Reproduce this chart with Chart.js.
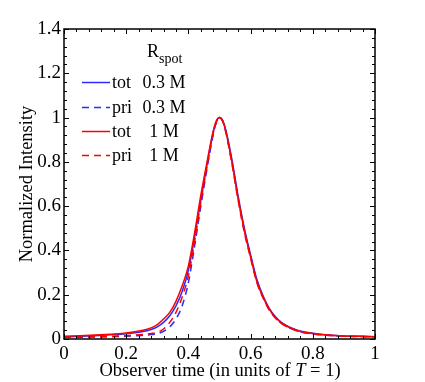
<!DOCTYPE html>
<html><head><meta charset="utf-8">
<script src="https://cdn.jsdelivr.net/npm/chart.js@4"></script>
<style>html,body{margin:0;padding:0;background:#fff;} canvas{display:block}</style>
</head><body>
<canvas id="c" width="425" height="382"></canvas>
<script>
// Observer time samples (units of T)
const timeX = [0,0.05,0.1,0.15,0.2,0.25,0.28,0.3,0.32,0.34,0.36,0.38,0.4,0.42,0.44,0.46,0.48,0.49,0.5,0.51,0.52,0.54,0.56,0.58,0.6,0.62,0.64,0.66,0.68,0.7,0.75,0.8,0.85,0.9,0.95,1];
// tot, R_spot = 0.3 M
const totSmall = [0.01,0.012,0.015,0.019,0.024,0.033,0.043,0.055,0.075,0.105,0.15,0.215,0.31,0.46,0.63,0.79,0.935,0.983,1.0,0.987,0.945,0.81,0.645,0.50,0.38,0.27,0.195,0.138,0.1,0.074,0.04,0.026,0.018,0.014,0.012,0.01];
// pri, R_spot = 0.3 M
const priSmall = [0.007,0.008,0.009,0.010,0.012,0.016,0.02,0.024,0.035,0.055,0.09,0.15,0.255,0.42,0.60,0.77,0.925,0.978,1.0,0.985,0.94,0.80,0.635,0.49,0.375,0.265,0.19,0.133,0.096,0.07,0.037,0.024,0.017,0.013,0.011,0.01];
// tot, R_spot = 1 M
const totLarge = [0.012,0.015,0.018,0.022,0.027,0.038,0.05,0.065,0.09,0.12,0.17,0.24,0.33,0.48,0.65,0.80,0.94,0.985,1.0,0.985,0.94,0.80,0.635,0.49,0.37,0.26,0.19,0.135,0.098,0.072,0.038,0.025,0.018,0.014,0.012,0.01];
// pri, R_spot = 1 M
const priLarge = [0.008,0.009,0.010,0.012,0.015,0.02,0.025,0.03,0.045,0.075,0.12,0.19,0.285,0.44,0.62,0.78,0.93,0.98,1.0,0.984,0.935,0.79,0.625,0.48,0.365,0.255,0.185,0.13,0.094,0.069,0.036,0.023,0.016,0.012,0.011,0.01];

const legendKinds = ['tot','pri','tot','pri'];
const legendRadii = ['0.3 M','0.3 M','1 M','1 M'];
const xTicks = [0,0.2,0.4,0.6,0.8,1];
const yTicks = [0,0.2,0.4,0.6,0.8,1,1.2,1.4];

const BLUE = '#2b2bff', RED = '#ff0000';
const SERIF = '"Liberation Serif", "Times New Roman", serif';
Chart.defaults.font.family = SERIF;
Chart.defaults.color = '#000';

function pts(ys){ return timeX.map((x,i)=>({x:x,y:ys[i]})); }
function fmt(v){ return String(parseFloat(Number(v).toFixed(2))); }

const series = [
  {label:'tot 0.3 M', data:pts(totSmall), borderColor:BLUE, borderDash:[], order:3},
  {label:'pri 0.3 M', data:pts(priSmall), borderColor:BLUE, borderDash:[7,5], order:4},
  {label:'tot 1 M', data:pts(totLarge), borderColor:RED, borderDash:[], order:1},
  {label:'pri 1 M', data:pts(priLarge), borderColor:RED, borderDash:[7,5], order:2}
].map(d=>Object.assign(d,{borderWidth:1.5, pointRadius:0, fill:false, cubicInterpolationMode:'monotone'}));

const deco = {
  id:'deco',
  afterDraw(chart){
    const ctx = chart.ctx, a = chart.chartArea, xs = chart.scales.x, ys = chart.scales.y;
    ctx.save();
    ctx.strokeStyle = '#000';
    ctx.lineWidth = 1;
    for(let i=0;i<=25;i++){
      const v = i*0.04, px = Math.round(xs.getPixelForValue(v))+0.5;
      const L = (i%5===0)?5:3;
      ctx.beginPath();
      ctx.moveTo(px,a.bottom); ctx.lineTo(px,a.bottom-L);
      ctx.moveTo(px,a.top); ctx.lineTo(px,a.top+L);
      ctx.stroke();
    }
    for(let i=0;i<=35;i++){
      const v = i*0.04, py = Math.round(ys.getPixelForValue(v))+0.5;
      const L = (i%5===0)?5:3;
      ctx.beginPath();
      ctx.moveTo(a.left,py); ctx.lineTo(a.left+L,py);
      ctx.moveTo(a.right,py); ctx.lineTo(a.right-L,py);
      ctx.stroke();
    }
    ctx.lineWidth = 1.5;
    ctx.strokeRect(a.left, a.top, a.right-a.left, a.bottom-a.top);

    // legend
    ctx.fillStyle = '#000';
    ctx.textBaseline = 'alphabetic';
    ctx.textAlign = 'left';
    ctx.font = '18px ' + SERIF;
    ctx.fillText('R', 147, 57);
    ctx.font = '14px ' + SERIF;
    ctx.fillText('spot', 159, 63);
    const rowY = [82,107,131,155];
    chart.data.datasets.forEach((d,i)=>{
      const y = rowY[i];
      ctx.strokeStyle = d.borderColor;
      ctx.lineWidth = 1.5;
      ctx.setLineDash(d.borderDash);
      ctx.beginPath(); ctx.moveTo(82,y+0.5); ctx.lineTo(110,y+0.5); ctx.stroke();
      ctx.setLineDash([]);
      ctx.fillStyle = '#000';
      ctx.font = '18px ' + SERIF;
      ctx.textBaseline = 'middle';
      ctx.textAlign = 'left';
      ctx.fillText(legendKinds[i], 112, y+1);
      ctx.textAlign = 'center';
      ctx.fillText(legendRadii[i], 164, y+1);
    });

    // axis titles
    const TF = '18.5px ' + SERIF, TFI = 'italic 18.5px ' + SERIF;
    ctx.fillStyle = '#000';
    ctx.textBaseline = 'alphabetic';
    ctx.font = TF;
    const p1 = 'Observer time (in units of ', p2 = 'T', p3 = ' = 1)';
    const w1 = ctx.measureText(p1).width, w3 = ctx.measureText(p3).width;
    ctx.font = TFI;
    const w2 = ctx.measureText(p2).width;
    const total = w1+w2+w3;
    let sx = 220 - total/2;
    ctx.textAlign = 'left';
    ctx.font = TF; ctx.fillText(p1, sx, 376);
    ctx.font = TFI; ctx.fillText(p2, sx+w1, 376);
    ctx.font = TF; ctx.fillText(p3, sx+w1+w2, 376);

    ctx.translate(27, (a.top+a.bottom)/2);
    ctx.rotate(-Math.PI/2);
    ctx.textAlign = 'center';
    ctx.textBaseline = 'middle';
    ctx.font = TF;
    ctx.fillText('Normalized Intensity', 0, 0);
    ctx.restore();
  }
};

new Chart(document.getElementById('c'), {
  type:'line',
  data:{datasets:series},
  plugins:[deco],
  options:{
    responsive:false, animation:false, devicePixelRatio:1,
    layout:{padding:{left:0,right:50,top:29,bottom:0}},
    plugins:{legend:{display:false}, tooltip:{enabled:false}},
    scales:{
      x:{type:'linear', min:0, max:1,
         grid:{display:false, drawTicks:false}, border:{display:false},
         afterBuildTicks(s){ s.ticks = xTicks.map(v=>({value:v})); },
         ticks:{font:{size:19}, color:'#000', padding:4, maxRotation:0, autoSkip:false, callback:fmt},
         afterFit(s){ s.height = 43; }},
      y:{type:'linear', min:0, max:1.4,
         grid:{display:false, drawTicks:false}, border:{display:false},
         afterBuildTicks(s){ s.ticks = yTicks.map(v=>({value:v})); },
         ticks:{font:{size:19}, color:'#000', padding:3, autoSkip:false, callback:fmt},
         afterFit(s){ s.width = 64; }}
    }
  }
});
</script>
</body></html>
